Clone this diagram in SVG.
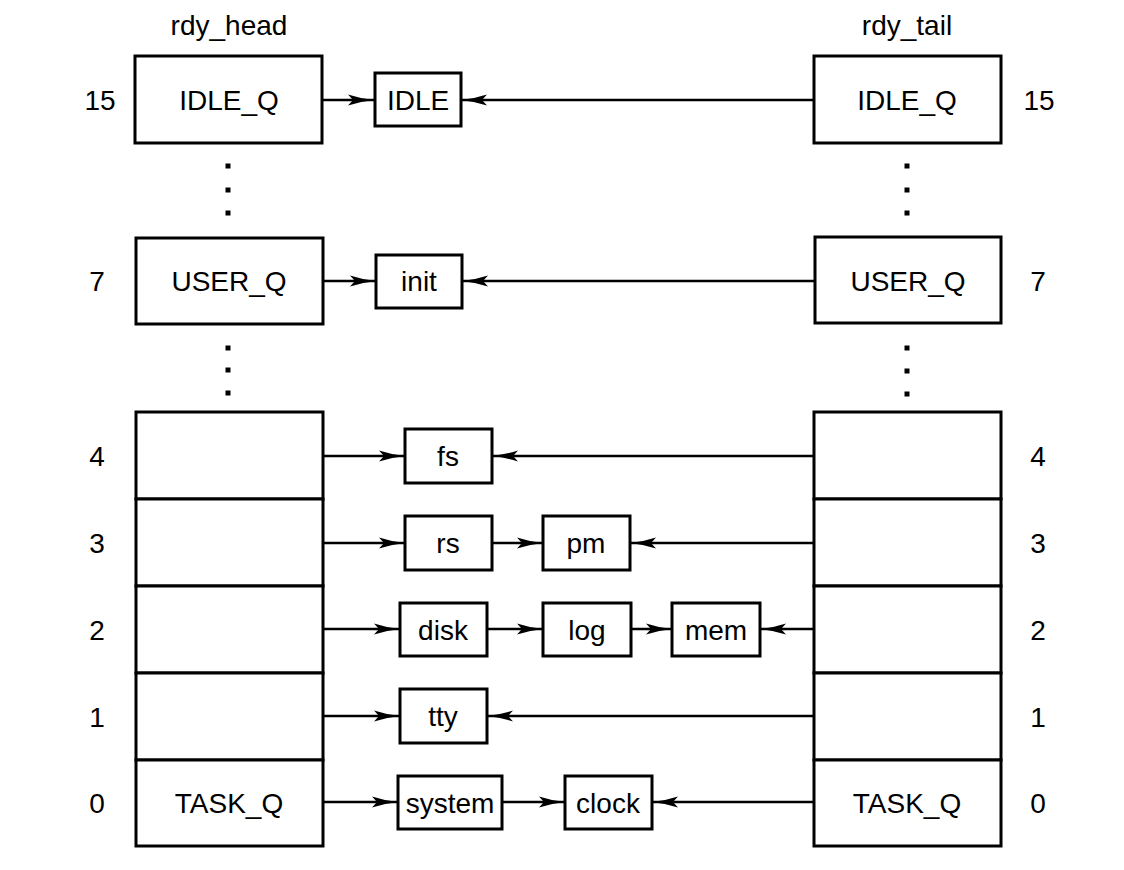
<svg xmlns="http://www.w3.org/2000/svg" width="1124" height="870" viewBox="0 0 1124 870">
<defs>
<style>
text{font-family:"Liberation Sans",Arial,Helvetica,sans-serif;font-size:28px;fill:#000;text-anchor:middle;dominant-baseline:central}
.box{fill:#fff;stroke:#000;stroke-width:3}
.c{stroke:#000;stroke-width:2.5;fill:none;marker-end:url(#ah)}
.dot{fill:#000}
</style>
<marker id="ah" viewBox="0 0 26 12" refX="26" refY="6" markerWidth="26" markerHeight="12" markerUnits="userSpaceOnUse" orient="auto">
<path d="M0,0.5 Q12,4.5 26,6 Q12,7.5 0,11.5 L5,6 z" fill="#000"/>
</marker>
</defs>
<rect width="1124" height="870" fill="#fff"/>
<text x="229" y="25">rdy_head</text>
<text x="907" y="25">rdy_tail</text>
<g id="labels">
<text x="100" y="100">15</text><text x="1039" y="100">15</text>
<text x="97" y="281">7</text><text x="1038" y="281">7</text>
<text x="97" y="456">4</text><text x="1038" y="456">4</text>
<text x="97" y="543">3</text><text x="1038" y="543">3</text>
<text x="97" y="630">2</text><text x="1038" y="630">2</text>
<text x="97" y="717">1</text><text x="1038" y="717">1</text>
<text x="97" y="803">0</text><text x="1038" y="803">0</text>
</g>
<g id="dots">
<rect class="dot" x="225.5" y="163.5" width="5" height="5"/>
<rect class="dot" x="225.5" y="187.5" width="5" height="5"/>
<rect class="dot" x="225.5" y="210.5" width="5" height="5"/>
<rect class="dot" x="225.5" y="345.5" width="5" height="5"/>
<rect class="dot" x="225.5" y="367.5" width="5" height="5"/>
<rect class="dot" x="225.5" y="390.5" width="5" height="5"/>
<rect class="dot" x="904.5" y="163.5" width="5" height="5"/>
<rect class="dot" x="904.5" y="187.5" width="5" height="5"/>
<rect class="dot" x="904.5" y="210.5" width="5" height="5"/>
<rect class="dot" x="904.5" y="345.5" width="5" height="5"/>
<rect class="dot" x="904.5" y="368.5" width="5" height="5"/>
<rect class="dot" x="904.5" y="391.5" width="5" height="5"/>
</g>
<g id="connectors">
<line class="c" x1="322" y1="100" x2="374" y2="100"/>
<line class="c" x1="814" y1="100" x2="461" y2="100"/>
<line class="c" x1="322" y1="281" x2="376" y2="281"/>
<line class="c" x1="815" y1="281" x2="462" y2="281"/>
<line class="c" x1="323" y1="456" x2="405" y2="456"/>
<line class="c" x1="815" y1="456" x2="492" y2="456"/>
<line class="c" x1="323" y1="543" x2="405" y2="543"/>
<line class="c" x1="492" y1="543" x2="543" y2="543"/>
<line class="c" x1="815" y1="543" x2="630" y2="543"/>
<line class="c" x1="323" y1="629" x2="400" y2="629"/>
<line class="c" x1="487" y1="629" x2="543" y2="629"/>
<line class="c" x1="631" y1="629" x2="672" y2="629"/>
<line class="c" x1="814" y1="629" x2="760" y2="629"/>
<line class="c" x1="323" y1="716" x2="400" y2="716"/>
<line class="c" x1="814" y1="716" x2="487" y2="716"/>
<line class="c" x1="323" y1="802" x2="398" y2="802"/>
<line class="c" x1="502" y1="802" x2="565" y2="802"/>
<line class="c" x1="814" y1="802" x2="652" y2="802"/>
</g>
<g id="head-idle"><rect class="box" x="135" y="56" width="187" height="87"/><text x="229" y="100">IDLE_Q</text></g>
<g id="head-user"><rect class="box" x="136" y="238" width="187" height="86"/><text x="229" y="281">USER_Q</text></g>
<g id="head-4"><rect class="box" x="136" y="412" width="187" height="87"/></g>
<g id="head-3"><rect class="box" x="136" y="499" width="187" height="87"/></g>
<g id="head-2"><rect class="box" x="136" y="586" width="187" height="87"/></g>
<g id="head-1"><rect class="box" x="136" y="673" width="187" height="87"/></g>
<g id="head-task"><rect class="box" x="136" y="760" width="187" height="86"/><text x="229" y="803">TASK_Q</text></g>
<g id="tail-idle"><rect class="box" x="814" y="56" width="187" height="87"/><text x="907" y="100">IDLE_Q</text></g>
<g id="tail-user"><rect class="box" x="815" y="237" width="186" height="86"/><text x="908" y="281">USER_Q</text></g>
<g id="tail-4"><rect class="box" x="814" y="412" width="187" height="87"/></g>
<g id="tail-3"><rect class="box" x="814" y="499" width="187" height="87"/></g>
<g id="tail-2"><rect class="box" x="814" y="586" width="187" height="87"/></g>
<g id="tail-1"><rect class="box" x="814" y="673" width="187" height="87"/></g>
<g id="tail-task"><rect class="box" x="814" y="760" width="187" height="86"/><text x="907" y="803">TASK_Q</text></g>
<g id="IDLE"><rect class="box" x="375" y="73" width="86" height="53"/><text x="418" y="100">IDLE</text></g>
<g id="init"><rect class="box" x="376" y="255" width="86" height="53"/><text x="419" y="281">init</text></g>
<g id="fs"><rect class="box" x="405" y="429" width="87" height="54"/><text x="448" y="456">fs</text></g>
<g id="rs"><rect class="box" x="405" y="516" width="87" height="54"/><text x="448" y="543">rs</text></g>
<g id="pm"><rect class="box" x="543" y="516" width="87" height="54"/><text x="586" y="543">pm</text></g>
<g id="disk"><rect class="box" x="400" y="603" width="87" height="53"/><text x="443" y="630">disk</text></g>
<g id="log"><rect class="box" x="543" y="603" width="88" height="53"/><text x="587" y="630">log</text></g>
<g id="mem"><rect class="box" x="672" y="603" width="88" height="53"/><text x="716" y="630">mem</text></g>
<g id="tty"><rect class="box" x="400" y="689" width="87" height="54"/><text x="443" y="716">tty</text></g>
<g id="system"><rect class="box" x="398" y="776" width="104" height="53"/><text x="450" y="803">system</text></g>
<g id="clock"><rect class="box" x="565" y="776" width="87" height="53"/><text x="608" y="803">clock</text></g>
</svg>
